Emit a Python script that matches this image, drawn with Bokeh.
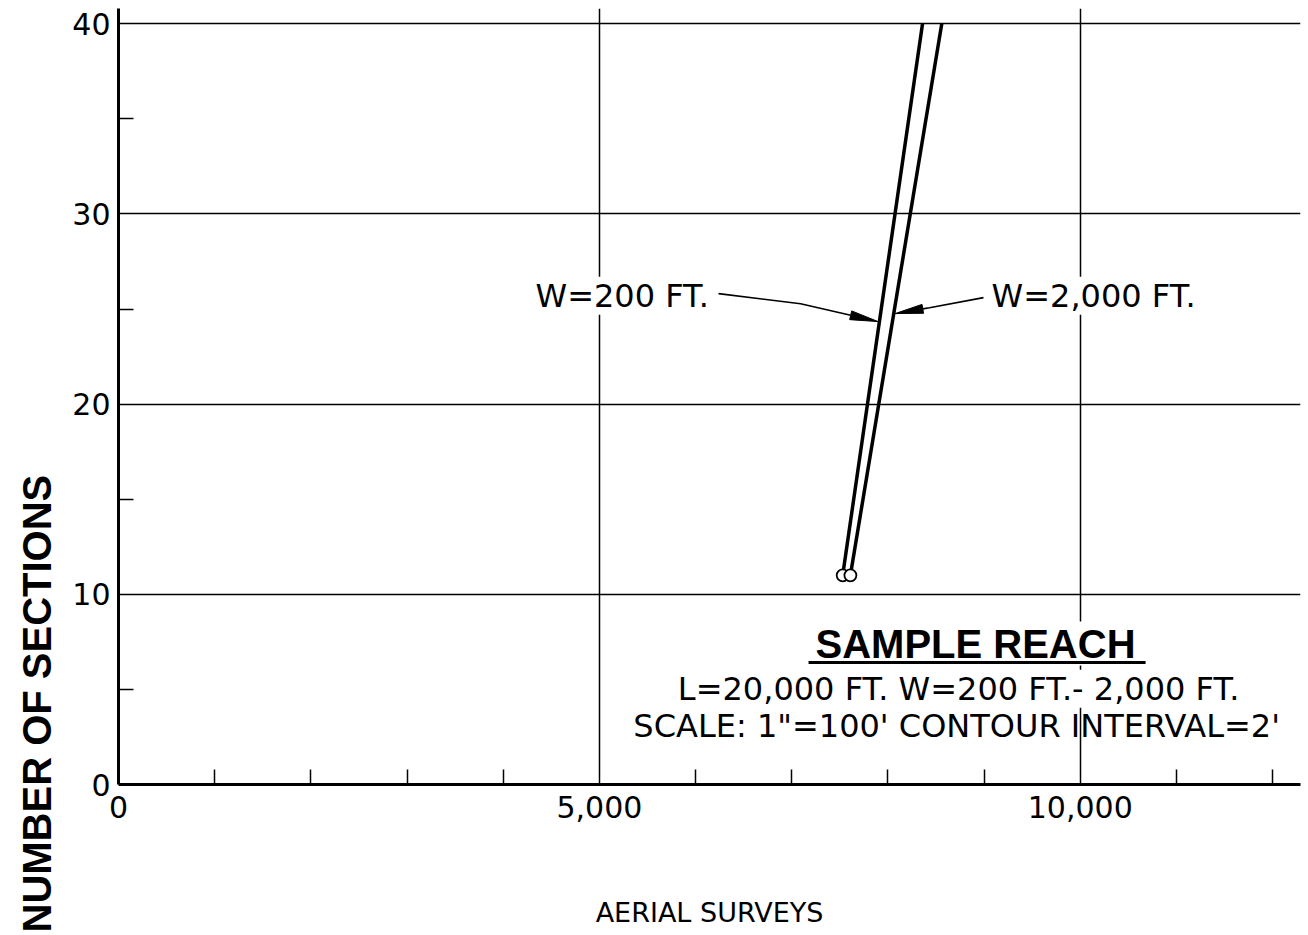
import math
from bokeh.plotting import figure
from bokeh.models import Range1d, FixedTicker, NumeralTickFormatter, Label, Title
from bokeh.embed import file_html
from bokeh.resources import INLINE

# ---- data ----
sections = [11, 40]                 # number of sections (ends of both curves)
w200_surveys = [7530, 8360]         # W = 200 FT.
w2000_surveys = [7610, 8560]        # W = 2,000 FT.
x_major = [0, 5000, 10000]
x_minor = [1000, 2000, 3000, 4000, 6000, 7000, 8000, 9000, 11000, 12000]
y_major = [0, 10, 20, 30, 40]
y_minor = [5, 15, 25, 35]

FONT = "DejaVu Sans"
BOLD = "Liberation Sans"

X_END, Y_END = 12290, 40.8
FRAME_W, FRAME_H = 1182, 776

p = figure(width=1308, height=935, output_backend="svg", toolbar_location=None,
           x_range=Range1d(0, X_END), y_range=Range1d(0, Y_END),
           min_border_left=118, min_border_right=8, min_border_top=8,
           min_border_bottom=151)
p.outline_line_color = None
p.background_fill_color = "white"
p.border_fill_color = "white"

# axes
xa = p.xaxis[0]
xa.ticker = FixedTicker(ticks=x_major, minor_ticks=x_minor)
xa.formatter = NumeralTickFormatter(format="0,0")
ya = p.yaxis[0]
ya.ticker = FixedTicker(ticks=y_major, minor_ticks=y_minor)
for ax in (xa, ya):
    ax.axis_line_width = 3
    ax.axis_line_color = "black"
    ax.major_tick_in = 0
    ax.major_tick_out = 0
    ax.minor_tick_in = 15
    ax.minor_tick_out = 0
    ax.minor_tick_line_width = 1.5
    ax.minor_tick_line_color = "black"
    ax.major_label_text_font = FONT
    ax.major_label_text_font_size = "30px"
    ax.major_label_text_color = "black"
xa.major_label_standoff = 11
ya.major_label_standoff = 8

xa.axis_label = "AERIAL SURVEYS"
xa.axis_label_text_font = FONT
xa.axis_label_text_font_size = "27px"
xa.axis_label_text_font_style = "normal"
xa.axis_label_text_color = "black"
xa.axis_label_standoff = 76

p.add_layout(Title(text="NUMBER OF SECTIONS", align="left", offset=-148,
                   text_font=BOLD, text_font_style="bold", text_font_size="40px",
                   text_color="black", standoff=22), "left")

p.xgrid.ticker = FixedTicker(ticks=x_major)
p.ygrid.ticker = FixedTicker(ticks=y_major)
for g in (p.xgrid, p.ygrid):
    g.grid_line_color = "black"
    g.grid_line_width = 1.5
    g.grid_line_alpha = 1.0

# curves
p.line(w200_surveys, sections, line_color="black", line_width=3.5)
p.line(w2000_surveys, sections, line_color="black", line_width=3.5)
p.scatter([w200_surveys[0], w2000_surveys[0]], [sections[0], sections[0]],
          marker="circle", size=12, fill_color="white", line_color="black",
          line_width=1.8)

# ---- annotations ----
SX = FRAME_W / X_END
SY = FRAME_H / Y_END


def x_on(xs, ys, y):
    return xs[0] + (xs[1] - xs[0]) * (y - ys[0]) / (ys[1] - ys[0])


def leader(points, length=28, half=4.5):
    (x1, y1), (x2, y2) = points[-2], points[-1]
    dx, dy = (x2 - x1) * SX, (y2 - y1) * SY
    n = math.hypot(dx, dy)
    ux, uy = dx / n, dy / n
    bx, by = x2 * SX - ux * length, y2 * SY - uy * length
    px, py = -uy * half, ux * half
    hx = [x2, (bx + px) / SX, (bx - px) / SX]
    hy = [y2, (by + py) / SY, (by - py) / SY]
    p.line([q[0] for q in points[:-1]] + [bx / SX], [q[1] for q in points[:-1]] + [by / SY],
           line_color="black", line_width=1.6)
    p.patch(hx, hy, fill_color="black", line_color="black", line_width=1)


tip_l_y = 24.34
tip_r_y = 24.76
leader([(6239, 25.81), (7092, 25.28), (x_on(w200_surveys, sections, tip_l_y) - 15, tip_l_y)])
leader([(8994, 25.60), (8433, 25.07), (x_on(w2000_surveys, sections, tip_r_y) + 15, tip_r_y)])

LBL = dict(text_font=FONT, text_color="black", text_baseline="alphabetic")
p.add_layout(Label(x=4336, y=25.70, text="W=200 FT.", text_font_size="32px",
                   text_align="left", background_fill_color="white", **LBL))
p.add_layout(Label(x=9078, y=25.70, text="W=2,000 FT.", text_font_size="32px",
                   text_align="left", background_fill_color="white", **LBL))

p.add_layout(Label(x=8911, y=7.41, text="SAMPLE REACH", text_font=BOLD,
                   text_font_style="bold", text_font_size="40px", text_align="center",
                   text_baseline="alphabetic", text_color="black",
                   background_fill_color="white"))
ul = p.line([7175, 10679], [6.41, 6.41], line_color="black", line_width=3)
ul.level = "overlay"
p.add_layout(Label(x=8735, y=5.04, text="L=20,000 FT. W=200 FT.- 2,000 FT.",
                   text_font_size="32px", text_align="center",
                   background_fill_color="white", **LBL))
p.add_layout(Label(x=8715, y=3.10, text="SCALE: 1\"=100' CONTOUR INTERVAL=2'",
                   text_font_size="32px", text_align="center", **LBL))

open("out.html", "w").write(file_html(p, INLINE))
